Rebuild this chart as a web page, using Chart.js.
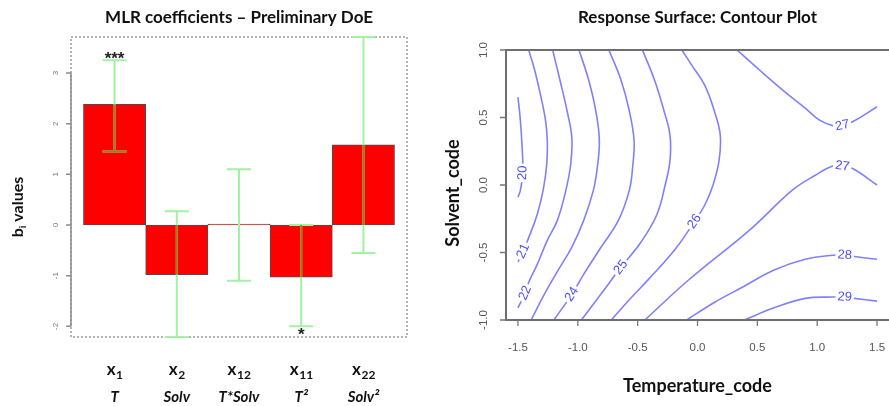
<!DOCTYPE html>
<html>
<head>
<meta charset="utf-8">
<script src="https://cdn.jsdelivr.net/npm/chart.js@4.4.0/dist/chart.umd.min.js"></script>
<style>
    body { margin: 0; background: #fff; }
    #wrap { position: relative; width: 889px; height: 406px; overflow: hidden; }
    canvas { position: absolute; top: 0; }
    #coefChart { left: 0; }
    #contourChart { left: 445px; }
</style>
</head>
<body>
<div id="wrap">
    <canvas id="coefChart" width="445" height="406" style="width:445px;height:406px"></canvas>
    <canvas id="contourChart" width="444" height="406" style="width:444px;height:406px"></canvas>
</div>
<script>
// ---- left panel: MLR coefficients ----
const termSubs = ['1', '2', '12', '11', '22'];
const factors = ['T', 'Solv', 'T*Solv', 'T²', 'Solv²'];
const barPos = [0.5, 1.5, 2.5, 3.5, 4.5];
const coefs = [2.38, -0.98, 0.02, -1.03, 1.58];
const ciLow = [1.45, -2.21, -1.10, -2.00, -0.55];
const ciHigh = [3.25, 0.27, 1.10, 0.00, 3.71];
const signif = ['***', '', '', '*', ''];
const coefTicks = [-2, -1, 0, 1, 2, 3];

// ---- right panel: contour lines (Temperature_code, Solvent_code) ----
const c20 = [[-1.50, 0.65], [-1.48, 0.48], [-1.464, 0.26], [-1.46, 0.09], [-1.48, -0.04], [-1.50, -0.09]];
const c21 = [[-1.41, 1.0], [-1.36, 0.85], [-1.31, 0.66], [-1.27, 0.48], [-1.255, 0.33], [-1.26, 0.15], [-1.29, -0.04],
    [-1.34, -0.22], [-1.41, -0.39], [-1.456, -0.49], [-1.50, -0.57]];
const c22 = [[-1.21, 1.0], [-1.15, 0.78], [-1.09, 0.55], [-1.05, 0.35], [-1.06, 0.15], [-1.10, -0.04], [-1.17, -0.26],
    [-1.255, -0.41], [-1.34, -0.59], [-1.41, -0.72], [-1.44, -0.80], [-1.50, -0.91]];
const c23 = [[-0.99, 1.0], [-0.91, 0.78], [-0.85, 0.55], [-0.82, 0.33], [-0.84, 0.11], [-0.87, -0.04], [-0.95, -0.26],
    [-1.05, -0.46], [-1.17, -0.64], [-1.28, -0.81], [-1.39, -1.0]];
const c24 = [[-0.74, 1.0], [-0.64, 0.78], [-0.57, 0.55], [-0.53, 0.33], [-0.54, 0.15], [-0.57, -0.04], [-0.66, -0.26],
    [-0.82, -0.48], [-0.95, -0.66], [-1.05, -0.81], [-1.20, -1.0]];
const c25 = [[-0.46, 1.0], [-0.36, 0.78], [-0.28, 0.55], [-0.23, 0.37], [-0.23, 0.18], [-0.27, 0.0], [-0.34, -0.22],
    [-0.47, -0.42], [-0.64, -0.61], [-0.80, -0.80], [-0.97, -1.0]];
const c26 = [[-0.13, 1.0], [-0.05, 0.89], [0.06, 0.74], [0.14, 0.55], [0.19, 0.37], [0.18, 0.18], [0.13, 0.0],
    [0.06, -0.15], [-0.025, -0.27], [-0.19, -0.48], [-0.40, -0.69], [-0.57, -0.85], [-0.72, -1.0]];
const c27a = [[0.33, 1.0], [0.52, 0.85], [0.73, 0.69], [0.90, 0.57], [1.02, 0.48], [1.13, 0.44], [1.21, 0.44],
    [1.30, 0.47], [1.50, 0.58]];
const c27b = [[-0.44, -1.0], [-0.07, -0.70], [0.44, -0.33], [0.79, -0.04], [0.98, 0.07], [1.13, 0.14], [1.21, 0.14],
    [1.30, 0.12], [1.50, 0.0]];
const c28 = [[-0.09, -1.0], [0.14, -0.87], [0.39, -0.75], [0.64, -0.63], [0.90, -0.55], [1.13, -0.52], [1.23, -0.52],
    [1.31, -0.53], [1.50, -0.55]];
const c29 = [[0.39, -1.0], [0.64, -0.91], [0.90, -0.84], [1.13, -0.83], [1.23, -0.83], [1.31, -0.84], [1.50, -0.86]];
const tempTicks = [-1.5, -1.0, -0.5, 0.0, 0.5, 1.0, 1.5];
const solvTicks = [-1.0, -0.5, 0.0, 0.5, 1.0];

// level label and the point of the line where R put it (null = not labelled)
const contours = [
    { level: '20', pts: c20, labelAt: 3 },
    { level: '21', pts: c21, labelAt: 9 },
    { level: '22', pts: c22, labelAt: 10 },
    { level: '23', pts: c23, labelAt: null },
    { level: '24', pts: c24, labelAt: 9 },
    { level: '25', pts: c25, labelAt: 8 },
    { level: '26', pts: c26, labelAt: 8 },
    { level: '27', pts: c27a, labelAt: 6 },
    { level: '27', pts: c27b, labelAt: 6 },
    { level: '28', pts: c28, labelAt: 6 },
    { level: '29', pts: c29, labelAt: 4 }
];

const boldFont = 'Lato, "Open Sans", sans-serif';
const tickFont = '"Liberation Sans", Arial, sans-serif';

// draw "x" with a subscript, centred on cx
const drawSubLabel = (ctx, base, sub, cx, cy, size) => {
    ctx.font = 'bold ' + size + 'px ' + boldFont;
    const w1 = ctx.measureText(base).width;
    ctx.font = 'bold ' + Math.round(size * 0.7) + 'px ' + boldFont;
    const w2 = ctx.measureText(sub).width;
    const x0 = cx - (w1 + w2) / 2;
    ctx.textAlign = 'left';
    ctx.textBaseline = 'middle';
    ctx.font = 'bold ' + size + 'px ' + boldFont;
    ctx.fillText(base, x0, cy);
    ctx.font = 'bold ' + Math.round(size * 0.7) + 'px ' + boldFont;
    ctx.fillText(sub, x0 + w1 + 0.5, cy + size * 0.3);
};

const coefDecor = {
    id: 'coefDecor',
    afterDatasetsDraw(chart) {
        const { ctx, chartArea: a, scales: { x, y } } = chart;
        ctx.save();

        // dotted box
        ctx.strokeStyle = '#9a9a9a';
        ctx.lineWidth = 1.5;
        ctx.setLineDash([2, 2]);
        ctx.strokeRect(a.left, a.top, a.right - a.left, a.bottom - a.top);
        ctx.setLineDash([]);

        // error bars
        const y0 = y.getPixelForValue(0);
        coefs.forEach((v, i) => {
            const cx = x.getPixelForValue(barPos[i]);
            const lo = y.getPixelForValue(ciLow[i]);
            const hi = y.getPixelForValue(ciHigh[i]);
            const yv = y.getPixelForValue(v);
            ctx.lineWidth = 2;
            ctx.strokeStyle = '#a2f2a2';
            ctx.beginPath();
            ctx.moveTo(cx, lo); ctx.lineTo(cx, hi);
            ctx.moveTo(cx - 12, lo); ctx.lineTo(cx + 12, lo);
            ctx.moveTo(cx - 12, hi); ctx.lineTo(cx + 12, hi);
            ctx.stroke();
            // part that lies over the red bar looks olive
            const barTop = Math.min(y0, yv), barBot = Math.max(y0, yv);
            const s = Math.max(barTop, hi), e = Math.min(barBot, lo);
            if (e - s > 2) {
                ctx.strokeStyle = '#948018';
                ctx.beginPath();
                ctx.moveTo(cx, s); ctx.lineTo(cx, e);
                [lo, hi].forEach(cy => {
                    if (cy > barTop + 1 && cy < barBot - 1) {
                        ctx.moveTo(cx - 12, cy); ctx.lineTo(cx + 12, cy);
                    }
                });
                ctx.stroke();
            }
            // significance stars
            if (signif[i]) {
                ctx.fillStyle = '#222';
                ctx.font = 'bold 17px ' + tickFont;
                ctx.textAlign = 'center';
                ctx.textBaseline = 'middle';
                const sy = v > 0 ? hi - 1 : lo + 9;
                ctx.fillText(signif[i], cx, sy);
            }
        });

        // y axis R style
        const yTop = y.getPixelForValue(coefTicks[coefTicks.length - 1]);
        const yBot = y.getPixelForValue(coefTicks[0]);
        ctx.strokeStyle = '#8c8c8c';
        ctx.lineWidth = 1.5;
        ctx.beginPath();
        ctx.moveTo(a.left, yTop); ctx.lineTo(a.left, yBot);
        coefTicks.forEach(t => {
            const ty = y.getPixelForValue(t);
            ctx.moveTo(a.left - 5, ty); ctx.lineTo(a.left, ty);
        });
        ctx.stroke();
        ctx.fillStyle = '#777';
        ctx.font = '8px ' + tickFont;
        ctx.textAlign = 'center';
        ctx.textBaseline = 'middle';
        coefTicks.forEach(t => {
            ctx.save();
            ctx.translate(a.left - 15, y.getPixelForValue(t));
            ctx.rotate(-Math.PI / 2);
            ctx.fillText(String(t), 0, 0);
            ctx.restore();
        });

        // category labels
        ctx.fillStyle = '#111';
        barPos.forEach((p, i) => {
            const cx = x.getPixelForValue(p);
            drawSubLabel(ctx, 'x', termSubs[i], cx, a.bottom + 33, 17);
            ctx.font = 'italic bold 15px ' + boldFont;
            ctx.textAlign = 'center';
            ctx.fillText(factors[i], cx, a.bottom + 60);
        });

        // y title
        ctx.save();
        ctx.translate(18, 207);
        ctx.rotate(-Math.PI / 2);
        ctx.fillStyle = '#111';
        ctx.font = 'bold 16px ' + boldFont;
        const wb = ctx.measureText('b').width;
        ctx.font = 'bold 10px ' + boldFont;
        const wi = ctx.measureText('i').width;
        ctx.font = 'bold 16px ' + boldFont;
        const wv = ctx.measureText(' values').width;
        const tx = -(wb + wi + wv) / 2;
        ctx.textAlign = 'left';
        ctx.textBaseline = 'middle';
        ctx.fillText('b', tx, 0);
        ctx.font = 'bold 10px ' + boldFont;
        ctx.fillText('i', tx + wb, 5);
        ctx.font = 'bold 16px ' + boldFont;
        ctx.fillText(' values', tx + wb + wi, 0);
        ctx.restore();

        // title
        ctx.fillStyle = '#111';
        ctx.font = 'bold 17px ' + boldFont;
        ctx.textAlign = 'center';
        ctx.textBaseline = 'middle';
        ctx.fillText('MLR coefficients – Preliminary DoE', (a.left + a.right) / 2, 18);
        ctx.restore();
    }
};

new Chart(document.getElementById('coefChart'), {
    type: 'bar',
    data: {
        datasets: [{
            label: 'b values',
            data: coefs.map((v, i) => ({ x: barPos[i], y: v })),
            backgroundColor: '#ff0000',
            borderColor: '#4d4d4d',
            borderWidth: 1,
            borderSkipped: false,
            categoryPercentage: 1,
            barPercentage: 1
        }]
    },
    options: {
        responsive: false,
        animation: false,
        layout: { padding: { left: 71, top: 37, right: 38, bottom: 69 } },
        plugins: { legend: { display: false }, tooltip: { enabled: false } },
        scales: {
            x: {
                type: 'linear', min: -0.2, max: 5.2, offset: false, display: false,
                // ticks at the bar centres so bars fill the whole slot
                afterBuildTicks: scale => { scale.ticks = barPos.map(v => ({ value: v })); }
            },
            y: { min: -2.21, max: 3.71, display: false }
        }
    },
    plugins: [coefDecor]
});

const contourDecor = {
    id: 'contourDecor',
    afterDatasetsDraw(chart) {
        const { ctx, chartArea: a, scales: { x, y } } = chart;
        ctx.save();

        // contour labels, white gap behind, aligned with the line
        contours.forEach(c => {
            if (c.labelAt === null) return;
            const p = c.pts[c.labelAt], pa = c.pts[c.labelAt - 1], pb = c.pts[c.labelAt + 1];
            const px = x.getPixelForValue(p[0]), py = y.getPixelForValue(p[1]);
            let ang = Math.atan2(y.getPixelForValue(pb[1]) - y.getPixelForValue(pa[1]),
                x.getPixelForValue(pb[0]) - x.getPixelForValue(pa[0]));
            if (ang > Math.PI / 2) ang -= Math.PI;
            if (ang < -Math.PI / 2) ang += Math.PI;
            ctx.save();
            ctx.translate(px, py);
            ctx.rotate(ang);
            ctx.font = '13px ' + tickFont;
            const w = ctx.measureText(c.level).width;
            ctx.fillStyle = '#fff';
            ctx.fillRect(-w / 2 - 2, -7, w + 4, 14);
            ctx.fillStyle = '#4d4dff';
            ctx.textAlign = 'center';
            ctx.textBaseline = 'middle';
            ctx.fillText(c.level, 0, 0);
            ctx.restore();
        });

        // box (right side falls outside the picture)
        ctx.strokeStyle = '#6e6e6e';
        ctx.lineWidth = 2;
        ctx.beginPath();
        ctx.moveTo(a.right + 2, a.top); ctx.lineTo(a.left, a.top);
        ctx.lineTo(a.left, a.bottom); ctx.lineTo(a.right + 2, a.bottom);
        ctx.stroke();

        // ticks
        ctx.lineWidth = 1.3;
        ctx.strokeStyle = '#777';
        ctx.beginPath();
        tempTicks.forEach(t => {
            const tx = x.getPixelForValue(t);
            ctx.moveTo(tx, a.bottom); ctx.lineTo(tx, a.bottom + 6);
        });
        solvTicks.forEach(t => {
            const ty = y.getPixelForValue(t);
            ctx.moveTo(a.left - 6, ty); ctx.lineTo(a.left, ty);
        });
        ctx.stroke();

        ctx.fillStyle = '#555';
        ctx.font = '11.5px ' + tickFont;
        ctx.textAlign = 'center';
        ctx.textBaseline = 'middle';
        tempTicks.forEach(t => ctx.fillText(t.toFixed(1), x.getPixelForValue(t), a.bottom + 28));
        solvTicks.forEach(t => {
            ctx.save();
            ctx.translate(a.left - 22, y.getPixelForValue(t));
            ctx.rotate(-Math.PI / 2);
            ctx.fillText(t.toFixed(1), 0, 0);
            ctx.restore();
        });

        // titles
        const cx = (a.left + a.right) / 2;
        ctx.fillStyle = '#111';
        ctx.font = 'bold 17px ' + boldFont;
        ctx.fillText('Response Surface: Contour Plot', cx, 18);
        ctx.font = 'bold 18px ' + boldFont;
        ctx.fillText('Temperature_code', cx, a.bottom + 66);
        ctx.save();
        ctx.translate(8, (a.top + a.bottom) / 2 + 8);
        ctx.rotate(-Math.PI / 2);
        ctx.fillText('Solvent_code', 0, 0);
        ctx.restore();
        ctx.restore();
    }
};

new Chart(document.getElementById('contourChart'), {
    type: 'scatter',
    data: {
        datasets: contours.map(c => ({
            label: c.level,
            data: c.pts.map(([tx, sy]) => ({ x: tx, y: sy })),
            showLine: true,
            pointRadius: 0,
            borderColor: '#8080ff',
            borderWidth: 1.6,
            tension: 0.4
        }))
    },
    options: {
        responsive: false,
        animation: false,
        layout: { padding: { left: 61, top: 50, right: 0, bottom: 86 } },
        plugins: { legend: { display: false }, tooltip: { enabled: false } },
        scales: {
            x: { type: 'linear', min: -1.6, max: 1.6, display: false },
            y: { type: 'linear', min: -1, max: 1, display: false }
        }
    },
    plugins: [contourDecor]
});
</script>
</body>
</html>
